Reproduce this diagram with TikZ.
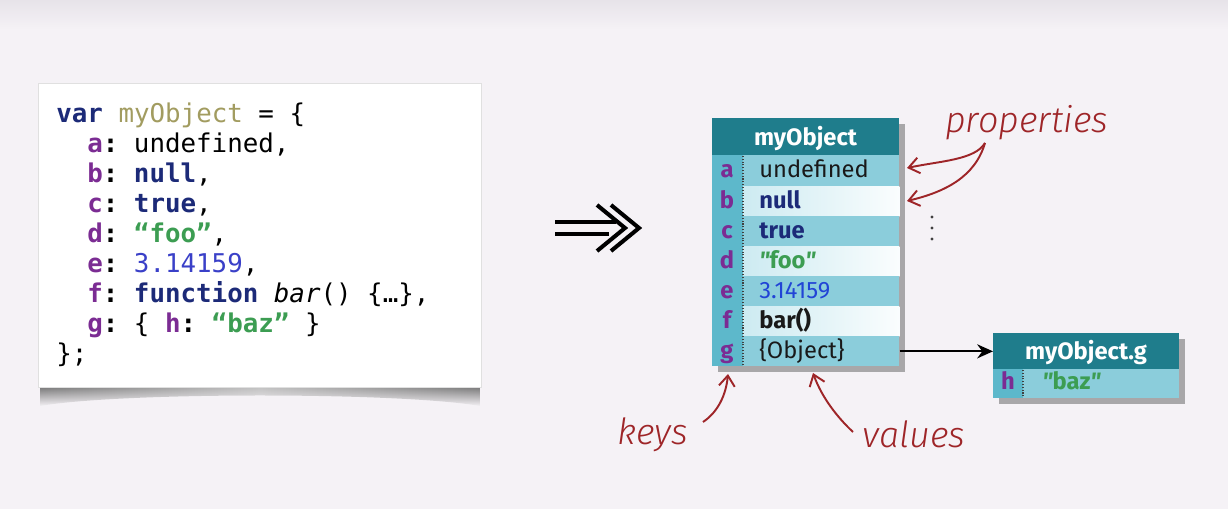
\documentclass[tikz,border=0pt]{standalone}
\usepackage{fontspec}
\usetikzlibrary{arrows.meta,shadows,calc,fadings}
\newfontfamily\codefont{DejaVu Sans Mono}
\newfontfamily\tabfont{Fira Sans}
\newfontfamily\handfont{Fira Sans Light Italic}

\definecolor{bgcol}{HTML}{F5F2F6}
\definecolor{bgtop}{HTML}{E7E3E9}
\definecolor{hdrcol}{HTML}{1F7D8C}
\definecolor{keycol}{HTML}{5DB8CB}
\definecolor{rowdark}{HTML}{8BCDDB}
\definecolor{rowlight}{HTML}{C4E7EF}
\definecolor{keypurple}{HTML}{7B2C93}
\definecolor{kwnavy}{HTML}{1C2A78}
\definecolor{idolive}{HTML}{A29C60}
\definecolor{strgreen}{HTML}{3C9D52}
\definecolor{numblue}{HTML}{3A40C8}
\definecolor{tnumblue}{HTML}{2144D6}
\definecolor{inkred}{HTML}{9E2528}

% slanted straight quote used around string values in the tables
\newcommand{\sq}{{\itshape"}}

\tikzset{
  codetxt/.style={anchor=base west, inner sep=0pt, font=\codefont\fontsize{14.7}{17}\selectfont\frenchspacing},
  tabtxt/.style={anchor=base west, inner sep=0pt, font=\tabfont\fontsize{13.5}{16}\selectfont},
  tabbold/.style={tabtxt, font=\tabfont\bfseries\fontsize{13.5}{16}\selectfont},
  keytxt/.style={anchor=base, inner sep=0pt, text=keypurple, font=\tabfont\bfseries\fontsize{13.5}{16}\selectfont},
  hdrtxt/.style={anchor=base, inner sep=0pt, text=white, font=\tabfont\bfseries\fontsize{13.5}{16}\selectfont},
  tablebox/.style={draw=none, fill=rowdark, inner sep=0pt, anchor=north west,
    drop shadow={shadow xshift=3pt, shadow yshift=-3pt, opacity=0.45, fill=black!70}},
  rowbox/.style={draw=none, inner sep=0pt, anchor=north west, minimum height=0.6cm},
  darkrow/.style={rowbox, fill=rowdark},
  lightrow/.style={rowbox, left color=rowlight, right color=white!92!rowlight},
  keysep/.style={draw=black!75, densely dotted, line width=0.6pt},
  hand/.style={inner sep=0pt, anchor=base west, text=inkred, font=\handfont\fontsize{20.5}{24}\selectfont},
  handarrow/.style={draw=inkred, line width=1.1pt, -{Straight Barb[length=6pt,width=9pt]}},
  link/.style={draw=black, line width=1.2pt, -{Stealth[length=9pt,width=8pt]}},
  bigarrow/.style={draw=black, line width=2.3pt},
}

\begin{document}
\begin{tikzpicture}[x=0.02cm, y=-0.02cm]
\useasboundingbox (0,0) rectangle (1228,509);
% page background
\fill[bgcol] (0,0) rectangle (1228,509);
\shade[top color=bgtop, bottom color=bgcol] (0,0) rectangle (1228,30);

% ---------- source code card ----------
% curled paper shadow: darker towards the corners, fading downwards
\shade[left color=black!55, right color=black!55, middle color=black!25, path fading=south]
  (40,386) -- (480,386) -- (480,406) .. controls (400,392) and (120,392) .. (40,406) -- cycle;
\node[draw=black!12, fill=white, inner sep=0pt, anchor=north west,
      minimum width=8.86cm, minimum height=6.08cm] (codebox) at (38,83) {};

\node[codetxt] (code1) at (56,123) {\textcolor{kwnavy}{\bfseries var} \textcolor{idolive}{myObject} = \{};
\node[codetxt] (code2) at (87,153) {\textcolor{keypurple}{\bfseries a}\textbf{:} undefined,};
\node[codetxt] (code3) at (87,183) {\textcolor{keypurple}{\bfseries b}\textbf{:} \textcolor{kwnavy}{\bfseries null},};
\node[codetxt] (code4) at (87,213) {\textcolor{keypurple}{\bfseries c}\textbf{:} \textcolor{kwnavy}{\bfseries true},};
\node[codetxt] (code5) at (87,243) {\textcolor{keypurple}{\bfseries d}\textbf{:} \textcolor{strgreen}{\bfseries “foo”},};
\node[codetxt] (code6) at (87,273) {\textcolor{keypurple}{\bfseries e}\textbf{:} \textcolor{numblue}{3.14159},};
\node[codetxt] (code7) at (87,303) {\textcolor{keypurple}{\bfseries f}\textbf{:} \textcolor{kwnavy}{\bfseries function} \textit{bar}() \{…\},};
\node[codetxt] (code8) at (87,333) {\textcolor{keypurple}{\bfseries g}\textbf{:} \{ \textcolor{keypurple}{\bfseries h}\textbf{:} \textcolor{strgreen}{\bfseries “baz”} \}};
\node[codetxt] (code9) at (56,363) {\};};

% ---------- "becomes" arrow ----------
\draw[bigarrow] (555,222) -- (616,222);
\draw[bigarrow] (555,234) -- (609,234);
\draw[bigarrow, line join=miter] (597,205) -- (625,228) -- (597,251);
\draw[bigarrow, line join=miter] (611,205) -- (639,228) -- (611,251);

% ---------- object table: myObject ----------
\node[tablebox, minimum width=3.74cm, minimum height=4.96cm] (objA) at (712,118) {};
\fill[hdrcol] (712,118) rectangle (899,155);
\node[darkrow,  minimum width=3.74cm] (rowa) at (712,155) {};
\node[lightrow, minimum width=3.74cm] (rowb) at (712,186) {};
\node[darkrow,  minimum width=3.74cm] (rowc) at (712,216) {};
\node[lightrow, minimum width=3.74cm] (rowd) at (712,246) {};
\node[darkrow,  minimum width=3.74cm] (rowe) at (712,276) {};
\node[lightrow, minimum width=3.74cm] (rowf) at (712,306) {};
\node[darkrow,  minimum width=3.74cm] (rowg) at (712,336) {};
\fill[keycol] (712,155) rectangle (743,366);
\draw[keysep] (743,156) -- (743,366);

\node[hdrtxt] (hdrA) at (805.5,146) {myObject};
\node[keytxt] (ka) at (727,178) {a};
\node[keytxt] (kb) at (727,209) {b};
\node[keytxt] (kc) at (727,239) {c};
\node[keytxt] (kd) at (727,269) {d};
\node[keytxt] (ke) at (727,299) {e};
\node[keytxt] (kf) at (727,329) {f};
\node[keytxt] (kg) at (727,359) {g};
\node[tabtxt, text=black!90] (va) at (759,178) {undefined};
\node[tabbold, text=kwnavy] (vb) at (759,209) {null};
\node[tabbold, text=kwnavy] (vc) at (759,239) {true};
\node[tabbold, text=strgreen] (vd) at (759,269) {\sq foo\sq};
\node[tabtxt, text=tnumblue] (ve) at (759,299) {3.14159};
\node[tabbold, text=black!90] (vf) at (759,329) {bar()};
\node[tabtxt, text=black!90] (vg) at (759,359) {\{Object\}};

% ---------- object table: myObject.g ----------
\node[tablebox, minimum width=3.72cm, minimum height=1.3cm] (objG) at (993,333) {};
\fill[hdrcol] (993,333) rectangle (1179,369);
\node[darkrow, minimum width=3.72cm, minimum height=0.58cm] (rowh) at (993,369) {};
\fill[keycol] (993,369) rectangle (1023,398);
\draw[keysep] (1023,370) -- (1023,398);
\node[hdrtxt] (hdrG) at (1086,360) {myObject.g};
\node[keytxt] (kh) at (1008,390) {h};
\node[tabbold, text=strgreen] (vh) at (1042,390) {\sq baz\sq};

% reference from g to the nested object
\draw[link] (rowg.east) -- (rowg.east -| objG.west);

% ---------- hand-written annotations ----------
\node[hand] (props) at (945,133) {properties};
\node[hand] (keys) at (617,445) {keys};
\node[hand] (vals) at (862,448) {values};

\coordinate (propsfoot) at (985,143);
\coordinate (tipa) at (907,168);
\coordinate (tipb) at (907,201);
\coordinate (keysfoot) at (703,422);
\coordinate (keystip) at (728,374);
\coordinate (valsfoot) at (853,432);
\coordinate (valstip) at (813,373);

\draw[handarrow] (propsfoot) .. controls (975,160) and (940,161) .. (tipa);
\draw[handarrow] (propsfoot) .. controls (975,177) and (945,192) .. (tipb);
\draw[handarrow] (keysfoot) .. controls (718,412) and (726,395) .. (keystip);
\draw[handarrow] (valsfoot) .. controls (838,418) and (822,398) .. (valstip);

\fill[black!75] (932,217) circle (1.6) (932,228) circle (1.6) (932,239) circle (1.6);
\end{tikzpicture}
\end{document}
